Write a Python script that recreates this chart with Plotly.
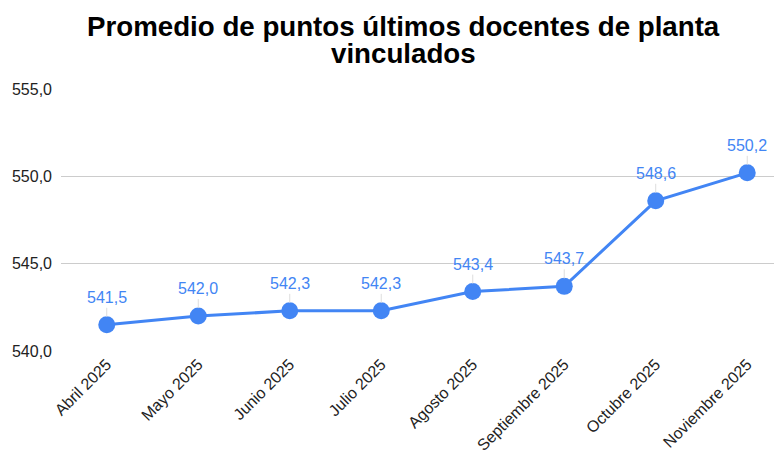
import plotly.graph_objects as go

meses = ["Abril 2025", "Mayo 2025", "Junio 2025", "Julio 2025", "Agosto 2025",
         "Septiembre 2025", "Octubre 2025", "Noviembre 2025"]
promedio = [541.5, 542.0, 542.3, 542.3, 543.4, 543.7, 548.6, 550.2]
y_ticks = [540, 545, 550, 555]
titulo = ["Promedio de puntos últimos docentes de planta", "vinculados"]

azul = "#4285F4"
fuente = "Liberation Sans, Arial, sans-serif"

fig = go.Figure()

fig.add_trace(go.Scatter(
    x=meses,
    y=promedio,
    mode="lines+markers",
    line=dict(color=azul, width=3),
    marker=dict(color=azul, size=17),
    hoverinfo="x+y",
    showlegend=False,
))

# etiquetas de datos con linea guia
for mes, val in zip(meses, promedio):
    fig.add_annotation(
        x=mes, y=val,
        text=f"{val:.1f}".replace(".", ","),
        showarrow=True, arrowhead=0, arrowwidth=1, arrowcolor="#dddddd",
        ax=0, ay=-17, yanchor="bottom", standoff=8,
        font=dict(family=fuente, size=16, color=azul),
    )

# titulo en dos anotaciones (interlineado mas ajustado)
for linea, y_pos in zip(titulo, [1.24, 1.136]):
    fig.add_annotation(
        text=f"<b>{linea}</b>",
        xref="paper", yref="paper", x=0.475, y=y_pos,
        xanchor="center", yanchor="middle", showarrow=False,
        font=dict(family=fuente, size=27.7, color="#000000"),
    )

# la pagina tiene 8px de margen en el body: se descuenta del tamaño
fig.update_layout(
    width=774,
    height=442,
    separators=",.",
    margin=dict(l=53, r=0, t=81, b=99),
    plot_bgcolor="white",
    paper_bgcolor="white",
    font=dict(family=fuente, size=16, color="#222222"),
)

fig.update_xaxes(
    range=[-0.5, 7.38],
    tickangle=-45,
    showgrid=False,
    showline=False,
    ticks="",
    automargin=False,
    tickfont=dict(size=16, color="#222222"),
)
fig.update_yaxes(
    range=[540, 555],
    tickvals=y_ticks,
    tickformat=".1f",
    showgrid=True,
    gridcolor="#cccccc",
    gridwidth=1,
    zeroline=False,
    ticks="",
    automargin=False,
    ticklabelstandoff=8,
    tickfont=dict(size=16, color="#222222"),
)

fig.write_html("out.html")
